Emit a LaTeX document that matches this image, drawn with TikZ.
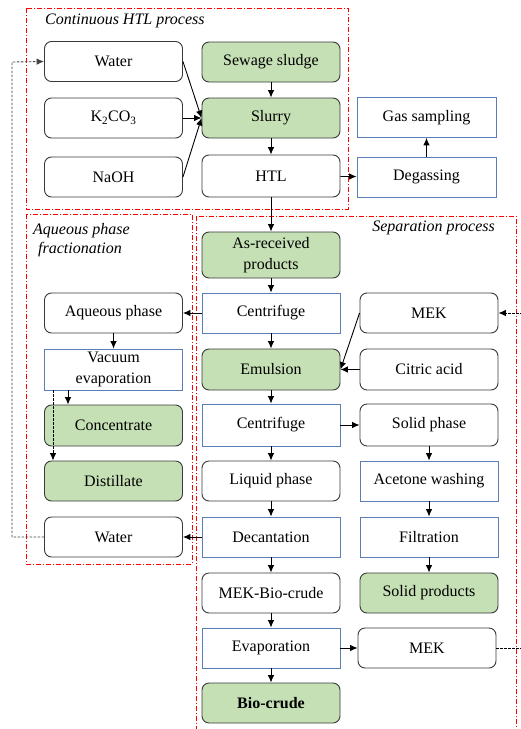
\documentclass[tikz,border=0pt]{standalone}
\usepackage{fontspec}
\setmainfont{Liberation Serif}
\usetikzlibrary{arrows.meta}
\definecolor{boxgreen}{HTML}{C5E0B4}
\definecolor{boxblue}{HTML}{5B7DB8}
\definecolor{boxgray}{HTML}{3A3A3A}
\definecolor{loopgray}{HTML}{444444}
\tikzset{
  base/.style={minimum width=138pt, minimum height=40pt, inner sep=0pt, align=center,
    font=\fontsize{16}{20}\selectfont},
  rbox/.style={base, draw=boxgray, rounded corners=7pt, line width=0.9pt, fill=white},
  gbox/.style={rbox, fill=boxgreen},
  bbox/.style={base, draw=boxblue, line width=0.8pt, fill=white},
  arr/.style={-{Latex[length=7.5pt,width=6.5pt]}, line width=0.9pt, black},
  darr/.style={arr, loopgray, dash pattern=on 2.5pt off 1.5pt},
  region/.style={draw=red, line width=0.8pt, dash pattern=on 5pt off 2pt on 1pt off 2pt},
  lbl/.style={font=\fontsize{16}{19}\selectfont\itshape, inner sep=0pt},
}
\begin{document}
\begin{tikzpicture}[x=1pt,y=-1pt]
\useasboundingbox (0,0) rectangle (521,729);
\clip (0,0) rectangle (521,729);
\fill[white] (0,0) rectangle (521,729);

% regions
\draw[region] (26,8) rectangle (348,209);
\draw[region] (26,214) rectangle (192,564);
\draw[region] (196,216) rectangle (516,740);
\node[lbl, anchor=west] (t1) at (45,21) {Continuous HTL process};
\node[lbl, anchor=west] (t2) at (33,231) {Aqueous phase};
\node[lbl, anchor=west] (t3) at (38,250) {fractionation};
\node[lbl, anchor=east] (t4) at (495,228) {Separation process};

% top region
\node[rbox] (water) at (113.5,61.5) {Water};
\node[gbox] (sludge) at (271,62) {Sewage sludge};
\node[rbox] (k2co3) at (113.5,118) {K\textsubscript{2}CO\textsubscript{3}};
\node[gbox] (slurry) at (271,118) {Slurry};
\node[rbox] (naoh) at (113.5,177) {NaOH};
\node[rbox, minimum height=42pt] (htl) at (271,176) {HTL};
\node[bbox, minimum width=139pt] (gas) at (426.5,117.5) {Gas sampling};
\node[bbox, minimum width=139pt] (degas) at (426.5,177) {Degassing};

% aqueous column
\node[rbox] (aq) at (113.5,313) {Aqueous phase};
\node[bbox, minimum height=41pt, font=\fontsize{16}{21}\selectfont] (vac) at (113.5,369.5) {Vacuum\\evaporation};
\node[gbox, minimum height=41pt] (conc) at (113.5,425.5) {Concentrate};
\node[gbox] (dist) at (113.5,481) {Distillate};
\node[rbox] (water2) at (113.5,537) {Water};

% middle column
\node[gbox, minimum height=46pt, font=\fontsize{16}{21}\selectfont] (asr) at (271,255) {As-received\\products};
\node[bbox] (cent1) at (271,313) {Centrifuge};
\node[gbox, minimum height=41pt] (emul) at (271,369.5) {Emulsion};
\node[bbox, minimum height=42pt] (cent2) at (271,425) {Centrifuge};
\node[rbox] (liq) at (271,481) {Liquid phase};
\node[bbox] (dec) at (271,537) {Decantation};
\node[rbox] (mekbio) at (271,593) {MEK-Bio-crude};
\node[bbox] (evap) at (271,648) {Evaporation};
\node[gbox, font=\fontsize{16}{20}\selectfont\bfseries] (bio) at (271,703) {Bio-crude};

% right column
\node[rbox] (mek1) at (429,313) {MEK};
\node[rbox, minimum height=41pt] (citric) at (429,369.5) {Citric acid};
\node[rbox, minimum height=42pt] (solid) at (429,425) {Solid phase};
\node[bbox] (acet) at (429,481) {Acetone washing};
\node[bbox] (filt) at (429,537) {Filtration};
\node[gbox] (solprod) at (429,593) {Solid products};
\node[rbox] (mek2) at (427,648) {MEK};

% arrows top
\draw[arr] (water.east) -- (slurry.west);
\draw[arr] (k2co3.east) -- (slurry.west);
\draw[arr] (naoh.east) -- (slurry.west);
\draw[arr] (sludge) -- (slurry);
\draw[arr] (slurry) -- (htl);
\draw[arr] (htl) -- (degas);
\draw[arr] (degas) -- (gas);
\draw[arr] (htl) -- (asr);

% separation arrows
\draw[arr] (asr) -- (cent1);
\draw[arr] (cent1) -- (aq);
\draw[arr] (cent1) -- (emul);
\draw[arr] (mek1.west) -- (emul.east);
\draw[arr] (citric) -- (emul);
\draw[arr] (emul) -- (cent2);
\draw[arr] (cent2) -- (solid);
\draw[arr] (cent2) -- (liq);
\draw[arr] (liq) -- (dec);
\draw[arr] (dec) -- (water2);
\draw[arr] (dec) -- (mekbio);
\draw[arr] (mekbio) -- (evap);
\draw[arr] (evap) -- (bio);
\draw[arr] (evap) -- (mek2);
\draw[arr] (solid) -- (acet);
\draw[arr] (acet) -- (filt);
\draw[arr] (filt) -- (solprod);

% aqueous arrows
\draw[arr] (vac.south -| 68,0) -- (conc.north -| 68,0);
\draw[arr] (aq) -- (vac);
\draw[darr, black] (vac.south -| 53,0) -- (dist.north -| 53,0);

% recycle loops
\coordinate (lA) at (12,537);
\coordinate (lB) at (12,62);
\draw[darr] (water2.west) -- (lA) -- (lB) -- (water.west);
\coordinate (rA) at (532,648);
\coordinate (rB) at (532,313);
\draw[darr, black] (mek2.east) -- (rA) -- (rB) -- (mek1.east);
\end{tikzpicture}
\end{document}
